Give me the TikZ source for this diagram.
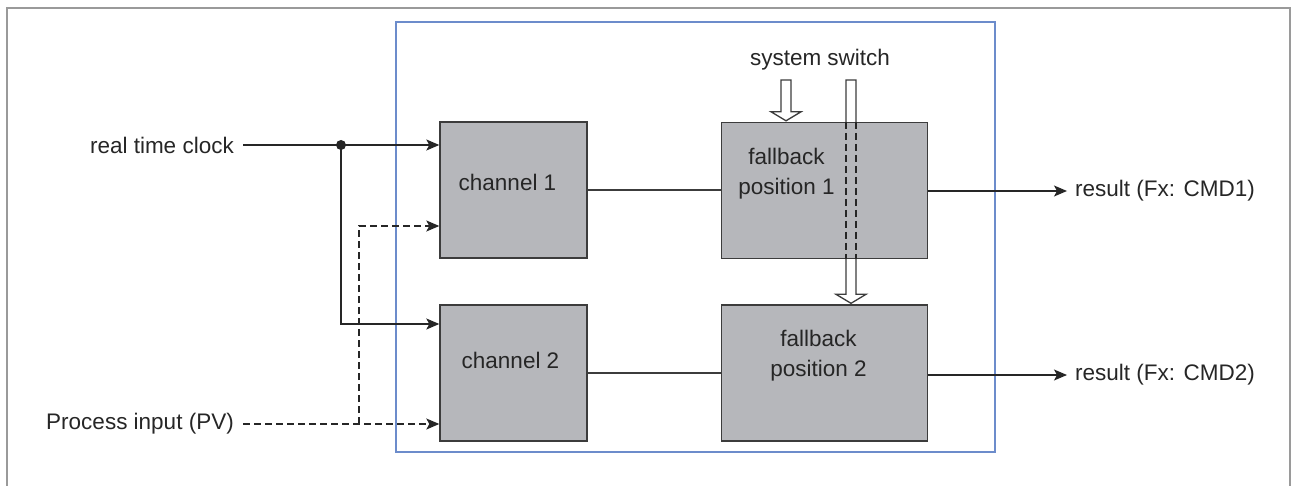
\documentclass[tikz,border=0pt]{standalone}
\usepackage{fontspec}
\setmainfont{Liberation Sans}
\usepackage{tikz}
\usetikzlibrary{arrows.meta,positioning,calc,backgrounds}

\definecolor{boxgray}{HTML}{B6B7BB}
\definecolor{edgegray}{HTML}{3C3C3C}
\definecolor{inkgray}{HTML}{262626}
\definecolor{unitblue}{HTML}{6C8CCB}
\definecolor{framegray}{HTML}{9A9A9A}

% hollow down arrow: #1 = top of shaft, #2 = tip
\newcommand{\hollowarrow}[2]{%
  \draw[hollow] ($(#1)+(-5,0)$) -- ($(#1)+(5,0)$) -- ($(#2)+(5,-9)$)
    -- ($(#2)+(15,-9)$) -- (#2) -- ($(#2)+(-15,-9)$)
    -- ($(#2)+(-5,-9)$) -- cycle;}

\begin{document}
\begin{tikzpicture}[
    x=1pt, y=-1pt,
    >={Stealth[length=13pt, width=11pt, inset=3pt]},
    every node/.style={font=\fontsize{22.5}{30}\selectfont, text=inkgray},
    box/.style={draw=edgegray, fill=boxgray, line width=1.4pt,
                minimum width=147pt, minimum height=136pt, inner sep=0pt},
    wide/.style={box, minimum width=206pt},
    tag/.style={inner sep=0pt, align=center},
    unit/.style={draw=unitblue, line width=1.3pt, minimum width=599pt,
                 minimum height=430pt, inner sep=0pt},
    arrow/.style={->, line width=1.3pt, draw=inkgray},
    plain/.style={line width=1.3pt, draw=edgegray},
    dasharrow/.style={arrow, dash pattern=on 7pt off 4pt},
    dashline/.style={line width=1.3pt, draw=inkgray, dash pattern=on 7pt off 4pt},
    hollow/.style={draw=edgegray, fill=white, line width=1.3pt, line join=miter},
  ]
  \useasboundingbox (0,0) rectangle (1292,486);

  % ── Frame ──
  \draw[framegray, line width=2.5pt] (7,486) -- (7,8) -- (1290,8) -- (1290,486);

  % ── Unit + blocks ──
  \node[unit] at (695.5,237) (unit) {};
  \node[box] at (513.5,190) (ch1) {};
  \node[box] at (513.5,373) (ch2) {};
  \node[wide] at (824.5,190.5) (fb1) {};
  \node[wide] at (824.5,373) (fb2) {};

  \node[tag] at ($(ch1.center)+(-6,-8)$) {channel 1};
  \node[tag] at ($(ch2.center)+(-3,-13)$) {channel 2};
  \node[tag] at ($(fb1.center)+(-38,-17)$) {fallback\\position 1};
  \node[tag] at ($(fb2.center)+(-6,-17)$) {fallback\\position 2};

  % ── Outside labels ──
  \node[tag, anchor=east] at (234,145) (rtc) {real time clock};
  \node[tag, anchor=east] at (234,424) (pv) {Process input (PV)};
  \node[tag, anchor=west] at (1075,191) (res1) {result (Fx: CMD1)};
  \node[tag, anchor=west] at (1075,375) (res2) {result (Fx: CMD2)};
  \node[tag] at (820,60) (sw) {system switch};

  % ── Clock to both channels ──
  \coordinate (jn) at (341,145);
  \draw[arrow] ([xshift=9pt]rtc.east) -- (ch1.west |- rtc);
  \draw[arrow] (jn) |- ([yshift=49pt]ch2.west);
  \fill[inkgray] (jn) circle (5pt);

  % ── Process input to both channels ──
  \coordinate (pj) at (359,424);
  \draw[dasharrow] ([xshift=9pt]pv.east) -- (ch2.west |- pv);
  \draw[dasharrow] (pj) |- ([yshift=-36pt]ch1.west);

  % ── Channels to fallback positions ──
  \draw[plain] (ch1.east) -- (fb1.west |- ch1.east);
  \draw[plain] (ch2.east) -- (fb2.west |- ch2.east);

  % ── Results ──
  \draw[arrow] (fb1.east |- res1) -- ([xshift=-8pt]res1.west);
  \draw[arrow] (fb2.east |- res2) -- ([xshift=-8pt]res2.west);

  % ── System switch ──
  \coordinate (sw1) at (786,80);
  \coordinate (sw2) at (851,80);
  \coordinate (tip1) at ($(fb1.north -| sw1)+(0,-1)$);
  \coordinate (tip2) at ($(fb2.north -| sw2)+(0,-1)$);
  \begin{scope}[on background layer]
    \hollowarrow{sw1}{tip1}
    \hollowarrow{sw2}{tip2}
  \end{scope}
  \coordinate (d1) at ($(sw2)+(-5,0)$);
  \coordinate (d2) at ($(sw2)+(5,0)$);
  \draw[dashline] (d1 |- fb1.north) -- (d1 |- fb1.south);
  \draw[dashline] (d2 |- fb1.north) -- (d2 |- fb1.south);

\end{tikzpicture}
\end{document}
